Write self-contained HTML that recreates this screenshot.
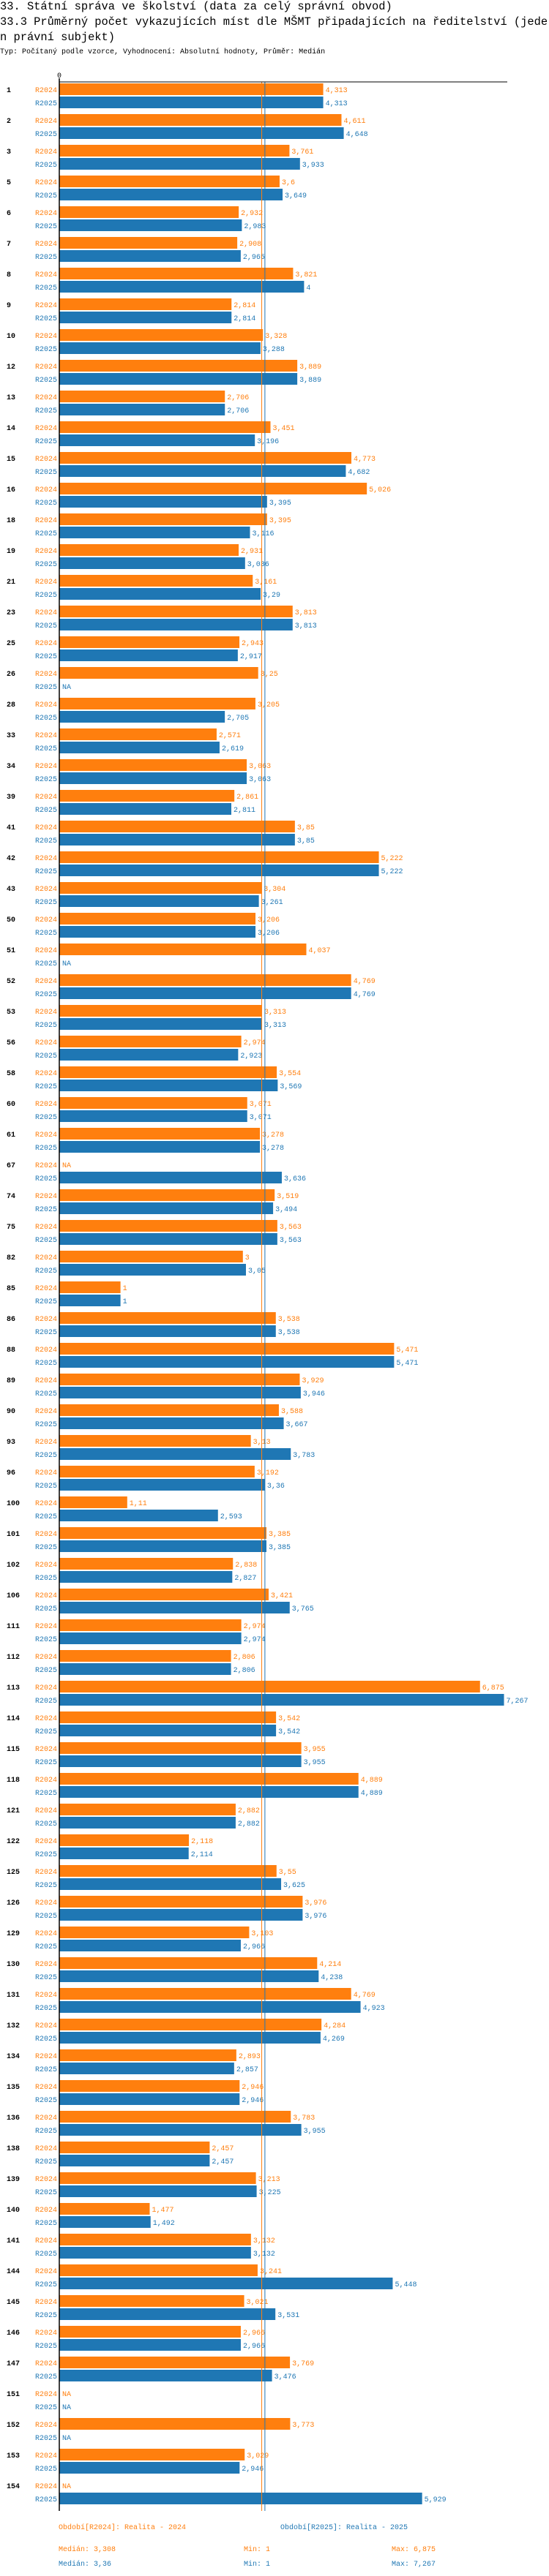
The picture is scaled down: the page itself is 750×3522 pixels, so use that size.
<!DOCTYPE html>
<html><head><meta charset="utf-8">
<style>
body{margin:0;background:#fff;width:750px;height:3522px;overflow:hidden;}
.t{position:absolute;left:0;font-family:"Liberation Mono",monospace;font-size:15.4px;color:#000;white-space:nowrap;line-height:21px;}
.s{position:absolute;left:0;top:66px;font-family:"Liberation Mono",monospace;font-size:10px;color:#000;white-space:nowrap;}
svg{position:absolute;left:0;top:0;}
svg text{font-family:"Liberation Mono",monospace;font-size:10px;}
</style></head><body>
<div class="t" style="top:-1px">33. Státní správa ve školství (data za celý správní obvod)</div>
<div class="t" style="top:20px">33.3 Průměrný počet vykazujících míst dle MŠMT připadajících na ředitelství (jede<br>n právní subjekt)</div>
<div class="s">Typ: Počítaný podle vzorce, Vyhodnocení: Absolutní hodnoty, Průměr: Medián</div>
<svg id="chart" width="750" height="3522"></svg>
<script>
const categories=["1","2","3","5","6","7","8","9","10","12","13","14","15","16","18","19","21","23","25","26","28","33","34","39","41","42","43","50","51","52","53","56","58","60","61","67","74","75","82","85","86","88","89","90","93","96","100","101","102","106","111","112","113","114","115","118","121","122","125","126","129","130","131","132","134","135","136","138","139","140","141","144","145","146","147","151","152","153","154"];
const r2024=[4.313,4.611,3.761,3.6,2.932,2.908,3.821,2.814,3.328,3.889,2.706,3.451,4.773,5.026,3.395,2.931,3.161,3.813,2.943,3.25,3.205,2.571,3.063,2.861,3.85,5.222,3.304,3.206,4.037,4.769,3.313,2.974,3.554,3.071,3.278,null,3.519,3.563,3,1,3.538,5.471,3.929,3.588,3.13,3.192,1.11,3.385,2.838,3.421,2.974,2.806,6.875,3.542,3.955,4.889,2.882,2.118,3.55,3.976,3.103,4.214,4.769,4.284,2.893,2.946,3.783,2.457,3.213,1.477,3.132,3.241,3.021,2.966,3.769,null,3.773,3.029,null];
const r2025=[4.313,4.648,3.933,3.649,2.983,2.965,4,2.814,3.288,3.889,2.706,3.196,4.682,3.395,3.116,3.036,3.29,3.813,2.917,null,2.705,2.619,3.063,2.811,3.85,5.222,3.261,3.206,null,4.769,3.313,2.923,3.569,3.071,3.278,3.636,3.494,3.563,3.05,1,3.538,5.471,3.946,3.667,3.783,3.36,2.593,3.385,2.827,3.765,2.974,2.806,7.267,3.542,3.955,4.889,2.882,2.114,3.625,3.976,2.966,4.238,4.923,4.269,2.857,2.946,3.955,2.457,3.225,1.492,3.132,5.448,3.531,2.966,3.476,null,null,2.946,5.929];
const medians=[3.308,3.36];
const seriesNames=["R2024","R2025"];
const colors=["#ff7f0e","#1f77b4"];
const NS="http://www.w3.org/2000/svg";
const svgEl=document.getElementById("chart");
const X0=81,K=83.6,Y0=114,PITCH=42,BH=16;
const xs=v=>X0+v*K;
const ys=(i,s)=>Y0+i*PITCH+s*18;
const fmt=v=>String(v).replace(".",",");
function mk(tag,attrs,txt){const e=document.createElementNS(NS,tag);for(const k in attrs)e.setAttribute(k,attrs[k]);if(txt!==undefined)e.textContent=txt;svgEl.appendChild(e);return e;}
const yEnd=ys(categories.length-1,1)+BH+9;
const zeroLbl=mk("text",{x:X0,y:106,"text-anchor":"middle",fill:"#000"},"0");


const seriesArr=[r2024,r2025];
categories.forEach((c,i)=>{
  const l=mk("text",{x:9,y:ys(i,0)+12,fill:"#000","font-weight":"bold","font-size":"11"},c);
  
  
  seriesArr.forEach((arr,s)=>{
    const y=ys(i,s);
    const sl=mk("text",{x:78,y:y+12,"text-anchor":"end",fill:colors[s]},seriesNames[s]);
    
    
    const v=arr[i];
    if(v===null){
      const na=mk("text",{x:X0+4,y:y+12,fill:colors[s]},"NA");
      
      
    }else{
      const b=mk("rect",{x:X0,y:y,width:xs(v)-X0,height:BH,fill:colors[s]});
      
      
      const vl=mk("text",{x:xs(v)+3,y:y+12,fill:colors[s]},fmt(v));
      
      
    }
  });
});
medians.forEach((m,s)=>{
  const ml=mk("line",{x1:xs(m),x2:xs(m),y1:112,y2:yEnd,stroke:colors[s],"stroke-width":1});
  
  
});
const topLine=mk("line",{x1:X0,x2:693,y1:112,y2:112,stroke:"#000","stroke-width":1});


const axLine=mk("line",{x1:X0,x2:X0,y1:107,y2:yEnd,stroke:"#000","stroke-width":1.5});


const legendText=["Období[R2024]: Realita - 2024","Období[R2025]: Realita - 2025"];
const legendX=[80,383];
legendText.forEach((t,s)=>{
  const e=mk("text",{x:legendX[s],y:3458,fill:colors[s]},t);
  
  
});
const medTxt=["3,308","3,36"],minTxt=["1","1"],maxTxt=["6,875","7,267"];
[0,1].forEach(s=>{
  const y=3488+s*20;
  const a=mk("text",{x:80,y:y,fill:colors[s]},"Medián: "+medTxt[s]);
  
  
  const b=mk("text",{x:333,y:y,fill:colors[s]},"Min: "+minTxt[s]);
  
  
  const c=mk("text",{x:535,y:y,fill:colors[s]},"Max: "+maxTxt[s]);
  
  
});
</script>
</body></html>
